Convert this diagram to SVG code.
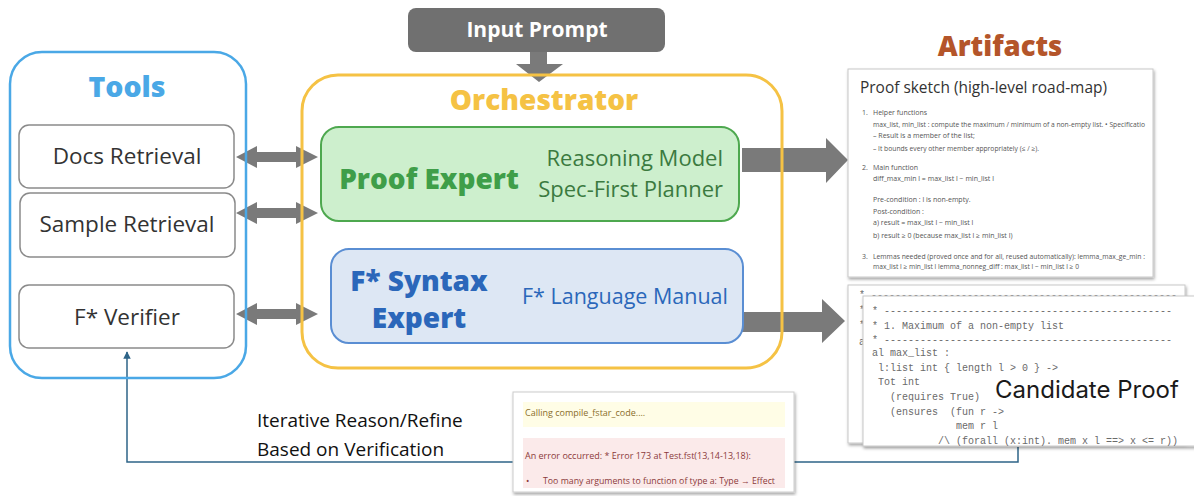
<svg xmlns="http://www.w3.org/2000/svg" width="1194" height="496" viewBox="0 0 1194 496">
<style>
.sans{font-family:"Open Sans","Liberation Sans",sans-serif}
.tool{fill:#fff;stroke:#8a8a8a;stroke-width:1.5}
.toolt{font-family:"Open Sans","Liberation Sans",sans-serif;font-size:22.5px;fill:#333;text-anchor:middle}
.garrow{fill:#7a7a7a}
.sk{font-family:"Open Sans","Liberation Sans",sans-serif;font-size:7px;fill:#555}
.code{font-family:"Liberation Mono","DejaVu Sans Mono",monospace;font-size:10px;fill:#6a6a6a;white-space:pre}
.card{fill:#fff;stroke:#c8c8c8;stroke-width:1}
.err{font-family:"Open Sans","Liberation Sans",sans-serif;font-size:9px;fill:#8b3a3a}
</style>
<defs>
<filter id="sh" x="-5%" y="-5%" width="115%" height="115%">
<feDropShadow dx="1" dy="2" stdDeviation="1.5" flood-color="#000" flood-opacity="0.35"/>
</filter>
<marker id="fb" viewBox="0 0 10 10" refX="9" refY="5" markerWidth="5" markerHeight="5" orient="auto-start-reverse">
<path d="M0,0 L10,5 L0,10 z" fill="#2e6488"/>
</marker>
<clipPath id="c1"><rect x="848" y="69" width="305" height="208"/></clipPath>
<clipPath id="c2"><rect x="848" y="285" width="337" height="158"/></clipPath>
<clipPath id="c3"><rect x="863" y="296" width="340" height="150"/></clipPath>
</defs>
<rect width="1194" height="496" fill="#fff"/>

<g id="connectors">
<path d="M1018,447 V462 H127 V352" fill="none" stroke="#2e6488" stroke-width="1.5" marker-end="url(#fb)"/>
<polygon class="garrow" points="236,157 257,146 257,152 296,152 296,146 318,157 296,168 296,162 257,162 257,168"/>
<polygon class="garrow" points="236,213 257,202 257,208 296,208 296,202 318,213 296,224 296,218 257,218 257,224"/>
<polygon class="garrow" points="236,314 257,303 257,309 296,309 296,303 318,314 296,325 296,319 257,319 257,325"/>
<polygon class="garrow" points="530,52 547,52 547,64 563,64 539,82 516,64 530,64"/>
<polygon class="garrow" points="742,148 826,148 826,138 848,160 826,183 826,172 742,172"/>
<polygon class="garrow" points="737,312 822,312 822,299 845,321 822,343 822,332 737,332"/>
</g>

<g id="input-prompt">
<rect x="408" y="8" width="257" height="44" rx="8" fill="#707070"/>
<text x="537" y="37" class="sans" font-size="21" font-weight="bold" fill="#fff" text-anchor="middle">Input Prompt</text>
</g>

<g id="tools">
<rect x="10" y="52" width="236" height="326" rx="32" fill="none" stroke="#4aa8e6" stroke-width="2.5"/>
<text x="127" y="97" class="sans" font-size="28.5" font-weight="800" fill="#4aa8e6" text-anchor="middle">Tools</text>
</g>
<g id="docs-retrieval">
<rect class="tool" x="19" y="125" width="215" height="63" rx="10"/>
<text class="toolt" x="127" y="164">Docs Retrieval</text>
</g>
<g id="sample-retrieval">
<rect class="tool" x="20" y="193" width="215" height="64" rx="10"/>
<text class="toolt" x="127" y="232">Sample Retrieval</text>
</g>
<g id="fstar-verifier">
<rect class="tool" x="19" y="285" width="215" height="63" rx="10"/>
<text class="toolt" x="127" y="325">F* Verifier</text>
</g>

<g id="orchestrator">
<rect x="302" y="75" width="480" height="293" rx="36" fill="none" stroke="#f5c244" stroke-width="3"/>
<text x="544" y="110" class="sans" font-size="28" font-weight="800" fill="#f5c244" text-anchor="middle">Orchestrator</text>
</g>
<g id="proof-expert">
<rect x="321" y="127" width="418" height="94" rx="18" fill="#cdefcd" stroke="#4ea84f" stroke-width="2"/>
<text x="429" y="189" class="sans" font-size="28" font-weight="800" fill="#3f9e49" text-anchor="middle">Proof Expert</text>
<text x="723" y="166" class="sans" font-size="22" fill="#3b7a3f" text-anchor="end">Reasoning Model</text>
<text x="723" y="197" class="sans" font-size="22" fill="#3b7a3f" text-anchor="end">Spec-First Planner</text>
</g>
<g id="syntax-expert">
<rect x="331" y="249" width="412" height="94" rx="18" fill="#dde7f4" stroke="#5a8ed3" stroke-width="2"/>
<text x="419" y="291" class="sans" font-size="28" font-weight="800" fill="#2b67ba" text-anchor="middle">F* Syntax</text>
<text x="419" y="328" class="sans" font-size="28" font-weight="800" fill="#2b67ba" text-anchor="middle">Expert</text>
<text x="728" y="304" class="sans" font-size="21.5" fill="#2b67ba" text-anchor="end">F* Language Manual</text>
</g>

<g id="artifacts">
<text x="1000" y="56" class="sans" font-size="27.5" font-weight="800" fill="#b4552a" text-anchor="middle">Artifacts</text>
</g>

<g id="proof-sketch">
<rect class="card" x="848" y="69" width="305" height="208" filter="url(#sh)"/>
<g clip-path="url(#c1)">
<text x="860" y="93" class="sans" font-size="16.5" fill="#333" textLength="247" lengthAdjust="spacingAndGlyphs">Proof sketch (high-level road-map)</text>
<text class="sk" x="862" y="115">1.</text><text class="sk" x="873" y="115">Helper functions</text>
<text class="sk" x="873" y="127" textLength="272" lengthAdjust="spacingAndGlyphs">max_list, min_list : compute the maximum / minimum of a non-empty list. • Specificatio</text>
<text class="sk" x="873" y="138">– Result is a member of the list;</text>
<text class="sk" x="873" y="151" textLength="166" lengthAdjust="spacingAndGlyphs">– It bounds every other member appropriately (≤ / ≥).</text>
<text class="sk" x="862" y="170">2.</text><text class="sk" x="873" y="170">Main function</text>
<text class="sk" x="873" y="181">diff_max_min l = max_list l − min_list l</text>
<text class="sk" x="873" y="202">Pre-condition : l is non-empty.</text>
<text class="sk" x="873" y="214">Post-condition :</text>
<text class="sk" x="873" y="225">a) result = max_list l − min_list l</text>
<text class="sk" x="873" y="238">b) result ≥ 0 (because max_list l ≥ min_list l)</text>
<text class="sk" x="862" y="259">3.</text><text class="sk" x="873" y="259" textLength="272" lengthAdjust="spacingAndGlyphs">Lemmas needed (proved once and for all, reused automatically): lemma_max_ge_min :</text>
<text class="sk" x="873" y="269" textLength="206" lengthAdjust="spacingAndGlyphs">max_list l ≥ min_list l lemma_nonneg_diff : max_list l − min_list l ≥ 0</text>
</g>
</g>

<g id="candidate-proof">
<rect class="card" x="848" y="285" width="337" height="158" filter="url(#sh)"/>
<g clip-path="url(#c2)">
<text class="code" x="859" y="298">* ---------------------------------------------------</text>
<text class="code" x="859" y="313">*</text>
<text class="code" x="859" y="328">*</text>
<text class="code" x="859" y="345">a</text>
</g>
<rect class="card" x="863" y="296" width="340" height="150" filter="url(#sh)"/>
<g clip-path="url(#c3)">
<text class="code" x="872" y="314">* ------------------------------------------------</text>
<text class="code" x="872" y="329">* 1. Maximum of a non-empty list</text>
<text class="code" x="872" y="343">* ------------------------------------------------</text>
<text class="code" x="872" y="356">al max_list :</text>
<text class="code" x="872" y="371"> l:list int { length l &gt; 0 } -&gt;</text>
<text class="code" x="872" y="385"> Tot int</text>
<text class="code" x="872" y="400">   (requires True)</text>
<text class="code" x="872" y="415">   (ensures  (fun r -&gt;</text>
<text class="code" x="872" y="429">              mem r l</text>
<text class="code" x="872" y="444">           /\ (forall (x:int). mem x l ==&gt; x &lt;= r))</text>
</g>
<text x="995" y="398" font-family="Inter,'Liberation Sans',sans-serif" font-size="24" fill="#1a1a1a">Candidate Proof</text>
</g>

<g id="feedback-label">
<text x="257" y="427" class="sans" font-size="19" fill="#111">Iterative Reason/Refine</text>
<text x="257" y="456" class="sans" font-size="19" fill="#111">Based on Verification</text>
</g>

<g id="error-log">
<rect x="513" y="392" width="281" height="100" fill="#fff" stroke="#ccc" filter="url(#sh)"/>
<rect x="523" y="402" width="262" height="25" fill="#fffde6"/>
<text x="525" y="416" class="err" style="fill:#8a6d2b">Calling compile_fstar_code....</text>
<rect x="523" y="438" width="262" height="50" fill="#fbeaea"/>
<text x="525" y="459" class="err">An error occurred: * Error 173 at Test.fst(13,14-13,18):</text>
<text x="526" y="484" class="err">•</text>
<text x="543" y="484" class="err" textLength="232" lengthAdjust="spacingAndGlyphs">Too many arguments to function of type a: Type → Effect</text>
</g>
</svg>
